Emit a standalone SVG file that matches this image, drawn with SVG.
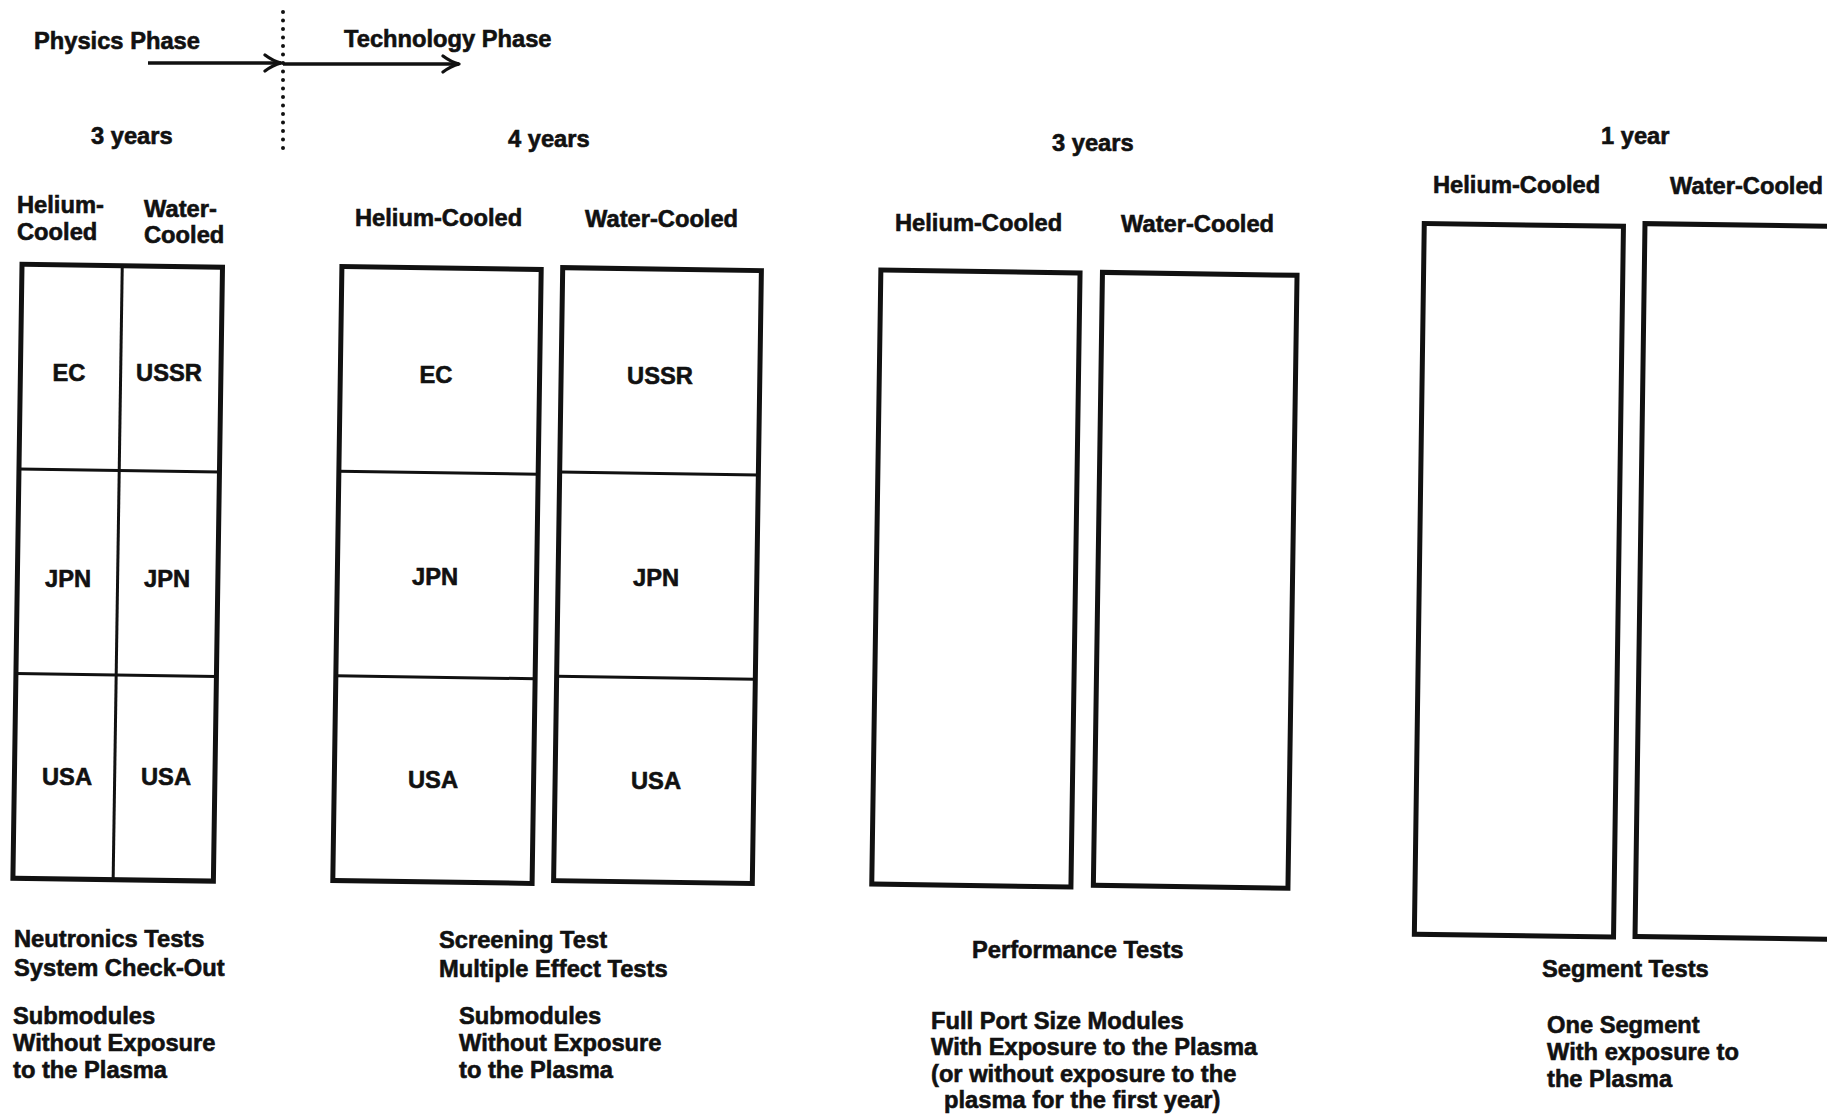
<svg xmlns="http://www.w3.org/2000/svg" width="1827" height="1115" viewBox="0 0 1827 1115">
<style>
text{font-family:"Liberation Sans",Arial,sans-serif;font-weight:bold;font-size:23.7px;fill:#111;stroke:#111;stroke-width:0.6px}
.c{text-anchor:middle}
.box{fill:none;stroke:#111;stroke-width:5}
.div{stroke:#111;stroke-width:3;fill:none}
.conn{stroke:#111;stroke-width:3.5;fill:none}
</style>
<defs>
<marker id="arr" viewBox="0 0 20 20" refX="18" refY="10" markerWidth="20" markerHeight="20" markerUnits="userSpaceOnUse" orient="auto">
<path d="M2,2 Q10,8 18,10 Q10,12 2,18" fill="none" stroke="#111" stroke-width="3.2" stroke-linecap="round" stroke-linejoin="round"/>
</marker>
</defs>
<rect width="1827" height="1115" fill="#fff"/>

<g id="connectors">
<line class="conn" x1="148" y1="63" x2="281" y2="63" marker-end="url(#arr)"/>
<line class="conn" x1="283" y1="64" x2="459" y2="64" marker-end="url(#arr)"/>
<line x1="283" y1="12" x2="283" y2="152" stroke="#111" stroke-width="4" stroke-linecap="round" stroke-dasharray="0 8.5"/>
</g>

<g id="header">
<text x="34" y="49">Physics Phase</text>
<text x="344" y="47">Technology Phase</text>
<text x="91" y="144">3 years</text>
<text x="508" y="147">4 years</text>
<text x="1052" y="151">3 years</text>
<text x="1601" y="144">1 year</text>
</g>

<g id="phase1">
<text x="17" y="213">Helium-</text>
<text x="17" y="240">Cooled</text>
<text x="144" y="217">Water-</text>
<text x="144" y="243">Cooled</text>
<g transform="rotate(0.85 117.7 572.7)">
<rect class="box" x="17.45" y="265.7" width="200.5" height="614"/>
<line class="div" x1="117.7" y1="265.7" x2="117.7" y2="879.7"/>
<line class="div" x1="17.45" y1="470.4" x2="217.95" y2="470.4"/>
<line class="div" x1="17.45" y1="675.1" x2="217.95" y2="675.1"/>
</g>
<text class="c" x="69" y="381">EC</text>
<text class="c" x="169" y="381">USSR</text>
<text class="c" x="68" y="587">JPN</text>
<text class="c" x="167" y="587">JPN</text>
<text class="c" x="67" y="785">USA</text>
<text class="c" x="166" y="785">USA</text>
<text x="14" y="947">Neutronics Tests</text>
<text x="14" y="976">System Check-Out</text>
<text x="13" y="1024">Submodules</text>
<text x="13" y="1051">Without Exposure</text>
<text x="13" y="1078">to the Plasma</text>
</g>

<g id="phase2">
<text x="355" y="226">Helium-Cooled</text>
<text x="585" y="227">Water-Cooled</text>
<g transform="rotate(0.85 437 575)">
<rect class="box" x="337.35" y="268" width="199.3" height="614"/>
<line class="div" x1="337.35" y1="472.7" x2="536.65" y2="472.7"/>
<line class="div" x1="337.35" y1="677.3" x2="536.65" y2="677.3"/>
</g>
<g transform="rotate(0.85 657.5 575.6)">
<rect class="box" x="558.15" y="269.1" width="198.7" height="613"/>
<line class="div" x1="558.15" y1="473.4" x2="756.85" y2="473.4"/>
<line class="div" x1="558.15" y1="677.8" x2="756.85" y2="677.8"/>
</g>
<text class="c" x="436" y="383">EC</text>
<text class="c" x="660" y="384">USSR</text>
<text class="c" x="435" y="585">JPN</text>
<text class="c" x="656" y="586">JPN</text>
<text class="c" x="433" y="788">USA</text>
<text class="c" x="656" y="789">USA</text>
<text x="439" y="948">Screening Test</text>
<text x="439" y="977">Multiple Effect Tests</text>
<text x="459" y="1024">Submodules</text>
<text x="459" y="1051">Without Exposure</text>
<text x="459" y="1078">to the Plasma</text>
</g>

<g id="phase3">
<text x="895" y="231">Helium-Cooled</text>
<text x="1121" y="232">Water-Cooled</text>
<g transform="rotate(0.85 975.9 578.5)">
<rect class="box" x="876.3" y="271.5" width="199.2" height="614"/>
</g>
<g transform="rotate(0.85 1195.2 580.3)">
<rect class="box" x="1097.9" y="273.8" width="194.6" height="613"/>
</g>
<text x="972" y="958">Performance Tests</text>
<text x="931" y="1029">Full Port Size Modules</text>
<text x="931" y="1055">With Exposure to the Plasma</text>
<text x="931" y="1082">(or without exposure to the</text>
<text x="944" y="1108">plasma for the first year)</text>
</g>

<g id="phase4">
<text x="1433" y="193">Helium-Cooled</text>
<text x="1670" y="194">Water-Cooled</text>
<g transform="rotate(0.8 1518.9 580.3)">
<rect class="box" x="1419.3" y="224.9" width="199.2" height="710.8"/>
</g>
<g transform="rotate(0.8 1739.5 581.5)">
<rect class="box" x="1640" y="225" width="199" height="713"/>
</g>
<text x="1542" y="977">Segment Tests</text>
<text x="1547" y="1033">One Segment</text>
<text x="1547" y="1060">With exposure to</text>
<text x="1547" y="1087">the Plasma</text>
</g>
</svg>
